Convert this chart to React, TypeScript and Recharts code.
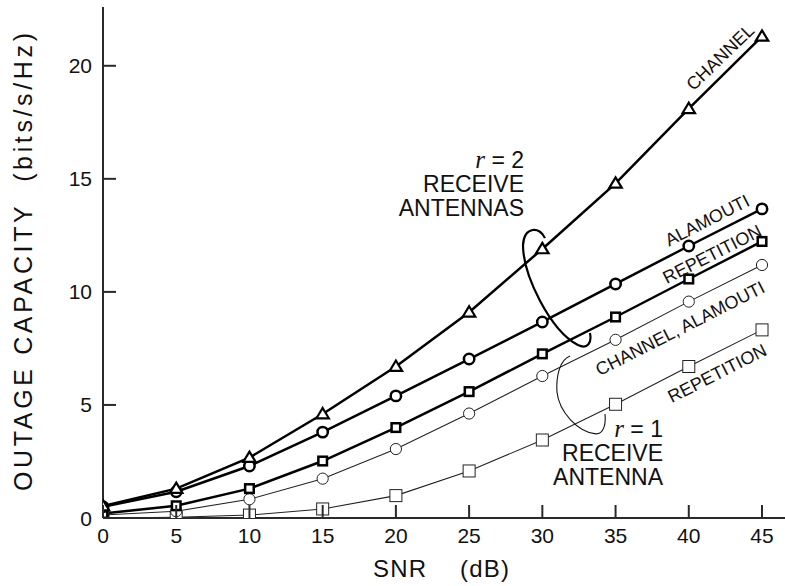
import React from 'react';
import { LineChart, Line, XAxis, YAxis } from 'recharts';

// ---------- data ----------
const snr = [0, 5, 10, 15, 20, 25, 30, 35, 40, 45];
const channelR2 = [0.53, 1.3, 2.67, 4.6, 6.7, 9.1, 11.9, 14.8, 18.1, 21.3];
const alamoutiR2 = [0.5, 1.16, 2.3, 3.8, 5.4, 7.03, 8.67, 10.35, 12.03, 13.67];
const repetitionR2 = [0.2, 0.54, 1.3, 2.52, 4.0, 5.59, 7.26, 8.89, 10.57, 12.23];
const channelAlamoutiR1 = [0.13, 0.3, 0.83, 1.74, 3.05, 4.62, 6.28, 7.88, 9.57, 11.19];
const repetitionR1 = [0.0, 0.03, 0.13, 0.4, 0.99, 2.08, 3.45, 5.03, 6.7, 8.32];

const xTicks = [0, 5, 10, 15, 20, 25, 30, 35, 40, 45];
const yTicks = [0, 5, 10, 15, 20];

const xLabel = ['SNR', '(dB)'];
const yLabel = 'OUTAGE CAPACITY  (bits/s/Hz)';

const lineLabels = [
  { text: 'CHANNEL', x: 42.13, y: 20.39, angle: -44 },
  { text: 'ALAMOUTI', x: 41.24, y: 13.18, angle: -27 },
  { text: 'REPETITION', x: 41.59, y: 11.68, angle: -27 },
  { text: 'CHANNEL, ALAMOUTI', x: 39.4, y: 8.4, angle: -27 },
  { text: 'REPETITION', x: 41.93, y: 6.41, angle: -27 },
];

const groupR2 = { x: 28.75, y: 15.48, value: '2', lines: ['RECEIVE', 'ANTENNAS'] };
const groupR1 = { x: 38.24, y: 3.58, value: '1', lines: ['RECEIVE', 'ANTENNA'] };

// loop curves (data coordinates): start, then cubic segments [c1, c2, end]
const loopR2 = [
  [30.18, 12.38],
  [29.84, 12.91], [28.75, 12.91], [28.68, 12.07],
  [28.68, 10.75], [30.52, 8.31], [32.43, 7.65],
  [33.11, 7.43], [33.39, 7.78], [33.25, 8.18],
];
const loopR1 = [
  [31.89, 7.16],
  [31.21, 6.99], [30.93, 6.32], [31.0, 5.57],
  [31.14, 4.69], [32.43, 3.8], [33.66, 3.72],
  [34.21, 3.72], [34.34, 4.16], [34.28, 4.6],
];

const data = snr.map((s, i) => ({
  snr: s,
  channelR2: channelR2[i],
  alamoutiR2: alamoutiR2[i],
  repetitionR2: repetitionR2[i],
  channelAlamoutiR1: channelAlamoutiR1[i],
  repetitionR1: repetitionR1[i],
}));

// ---------- layout ----------
const W = 785;
const H = 586;
const PLOT_L = 103;
const PLOT_T = 7;
const PLOT_R = 785;
const PLOT_B = 518;
const PLOT_W = PLOT_R - PLOT_L;
const PLOT_H = PLOT_B - PLOT_T;
const XMAX = 46.57;
const YMAX = 22.6;
const sx = (v: number) => PLOT_L + (v / XMAX) * PLOT_W;
const sy = (v: number) => PLOT_B - (v / YMAX) * PLOT_H;

const FONT = "'Liberation Sans', Arial, Helvetica, sans-serif";
const SERIF = "'Liberation Serif', 'Times New Roman', serif";
const AXIS = '#2a2a2a';
const TICK_LEN = 13;

const BottomTick = (p: any) => (
  <g>
    <line x1={p.x} x2={p.x} y1={p.y} y2={p.y - TICK_LEN} stroke={AXIS} strokeWidth={2} />
    <text x={p.x} y={p.y + 25} textAnchor="middle" fontSize={21} fontFamily={FONT} fill="#111">
      {p.payload.value}
    </text>
  </g>
);
const TopTick = (p: any) => (
  <line x1={p.x} x2={p.x} y1={p.y} y2={p.y + TICK_LEN} stroke={AXIS} strokeWidth={2} />
);
const LeftTick = (p: any) => (
  <g>
    <line x1={p.x} x2={p.x + TICK_LEN} y1={p.y} y2={p.y} stroke={AXIS} strokeWidth={2} />
    <text x={p.x - 11} y={p.y + 7.5} textAnchor="end" fontSize={21} fontFamily={FONT} fill="#111">
      {p.payload.value}
    </text>
  </g>
);
const RightTick = (p: any) => (
  <line x1={p.x} x2={p.x - TICK_LEN} y1={p.y} y2={p.y} stroke={AXIS} strokeWidth={2} />
);

const triDot = (p: any) => (
  <path
    key={`tri-${p.index}`}
    d={`M${p.cx},${p.cy - 6} L${p.cx + 6.2},${p.cy + 4.3} L${p.cx - 6.2},${p.cy + 4.3} Z`}
    fill="#fff"
    stroke="#000"
    strokeWidth={2.2}
    strokeLinejoin="miter"
  />
);
const boldCircle = (p: any) => (
  <circle key={`bc-${p.index}`} cx={p.cx} cy={p.cy} r={5.2} fill="#fff" stroke="#000" strokeWidth={2.5} />
);
const boldSquare = (p: any) => (
  <rect key={`bs-${p.index}`} x={p.cx - 4.3} y={p.cy - 4.3} width={8.6} height={8.6} fill="#fff" stroke="#000" strokeWidth={2.5} />
);
const thinCircle = (p: any) => (
  <circle key={`tc-${p.index}`} cx={p.cx} cy={p.cy} r={5.6} fill="#fff" stroke="#222" strokeWidth={1} />
);
const thinSquare = (p: any) => (
  <rect key={`ts-${p.index}`} x={p.cx - 6} y={p.cy - 6} width={12} height={12} fill="#fff" stroke="#222" strokeWidth={1} />
);

const curvePath = (pts: number[][]) => {
  let d = `M${sx(pts[0][0])},${sy(pts[0][1])}`;
  for (let i = 1; i + 2 < pts.length; i += 3) {
    d += ` C${sx(pts[i][0])},${sy(pts[i][1])} ${sx(pts[i + 1][0])},${sy(pts[i + 1][1])} ${sx(pts[i + 2][0])},${sy(pts[i + 2][1])}`;
  }
  return d;
};

const Group = ({ g }: { g: typeof groupR2 }) => {
  const x = sx(g.x);
  const y = sy(g.y);
  return (
    <text x={x} y={y} textAnchor="end" fontSize={23} fontFamily={FONT} fill="#111">
      <tspan x={x} y={y}>
        <tspan fontFamily={SERIF} fontStyle="italic" fontSize={25}>r</tspan>
        <tspan>{` = ${g.value}`}</tspan>
      </tspan>
      {g.lines.map((l, i) => (
        <tspan key={i} x={x} y={y + 24 * (i + 1)}>{l}</tspan>
      ))}
    </text>
  );
};

export default function App() {
  return (
    <div style={{ position: 'absolute', left: 0, top: 0, width: W, height: H, background: '#fff' }}>
      <LineChart width={W} height={H} data={data} margin={{ top: PLOT_T, right: 0, bottom: 0, left: 0 }}>
        <XAxis
          xAxisId="b"
          dataKey="snr"
          type="number"
          domain={[0, XMAX]}
          ticks={xTicks}
          interval={0}
          height={H - PLOT_B}
          tickSize={0}
          tickMargin={0}
          tickLine={false}
          tick={BottomTick}
          axisLine={{ stroke: AXIS, strokeWidth: 2 }}
          allowDataOverflow
        />
        <XAxis
          xAxisId="t"
          orientation="top"
          dataKey="snr"
          type="number"
          domain={[0, XMAX]}
          ticks={xTicks.slice(1)}
          interval={0}
          height={0}
          tickSize={0}
          tickMargin={0}
          tickLine={false}
          tick={TopTick}
          axisLine={{ stroke: AXIS, strokeWidth: 2 }}
          allowDataOverflow
        />
        <YAxis
          yAxisId="l"
          type="number"
          domain={[0, YMAX]}
          ticks={yTicks}
          interval={0}
          width={PLOT_L}
          tickSize={0}
          tickMargin={0}
          tickLine={false}
          tick={LeftTick}
          axisLine={{ stroke: AXIS, strokeWidth: 2 }}
          allowDataOverflow
        />
        <YAxis
          yAxisId="r"
          orientation="right"
          type="number"
          domain={[0, YMAX]}
          ticks={yTicks.slice(1)}
          interval={0}
          width={0}
          tickSize={0}
          tickMargin={0}
          tickLine={false}
          tick={RightTick}
          axisLine={false}
          allowDataOverflow
        />
        <Line xAxisId="b" yAxisId="l" type="linear" dataKey="repetitionR1" stroke="#222" strokeWidth={1.1} dot={thinSquare} isAnimationActive={false} />
        <Line xAxisId="b" yAxisId="l" type="linear" dataKey="channelAlamoutiR1" stroke="#222" strokeWidth={1.1} dot={thinCircle} isAnimationActive={false} />
        <Line xAxisId="b" yAxisId="l" type="linear" dataKey="repetitionR2" stroke="#000" strokeWidth={2.5} dot={boldSquare} isAnimationActive={false} />
        <Line xAxisId="b" yAxisId="l" type="linear" dataKey="alamoutiR2" stroke="#000" strokeWidth={2.5} dot={boldCircle} isAnimationActive={false} />
        <Line xAxisId="b" yAxisId="l" type="linear" dataKey="channelR2" stroke="#000" strokeWidth={2.5} dot={triDot} isAnimationActive={false} />
      </LineChart>
      <svg width={W} height={H} style={{ position: 'absolute', left: 0, top: 0, pointerEvents: 'none' }}>
        {lineLabels.map((l, i) => (
          <text
            key={i}
            x={sx(l.x)}
            y={sy(l.y)}
            dy="0.36em"
            textAnchor="middle"
            fontSize={18}
            fontFamily={FONT}
            fill="#111"
            transform={`rotate(${l.angle} ${sx(l.x)} ${sy(l.y)})`}
          >
            {l.text}
          </text>
        ))}
        <Group g={groupR2} />
        <Group g={groupR1} />
        <path d={curvePath(loopR2)} fill="none" stroke="#000" strokeWidth={2.2} />
        <path d={curvePath(loopR1)} fill="none" stroke="#111" strokeWidth={1.1} />
        <text x={373} y={577} fontSize={24} fontFamily={FONT} fill="#111" letterSpacing={1.2}>
          {xLabel[0]}
        </text>
        <text x={460} y={577} fontSize={24} fontFamily={FONT} fill="#111" letterSpacing={1.2}>
          {xLabel[1]}
        </text>
        <text
          x={0}
          y={0}
          fontSize={25}
          fontFamily={FONT}
          fill="#111"
          textAnchor="middle"
          textLength={458}
          lengthAdjust="spacing"
          transform="translate(32 262) rotate(-90)"
          style={{ whiteSpace: 'pre' }}
        >
          {yLabel}
        </text>
      </svg>
    </div>
  );
}
